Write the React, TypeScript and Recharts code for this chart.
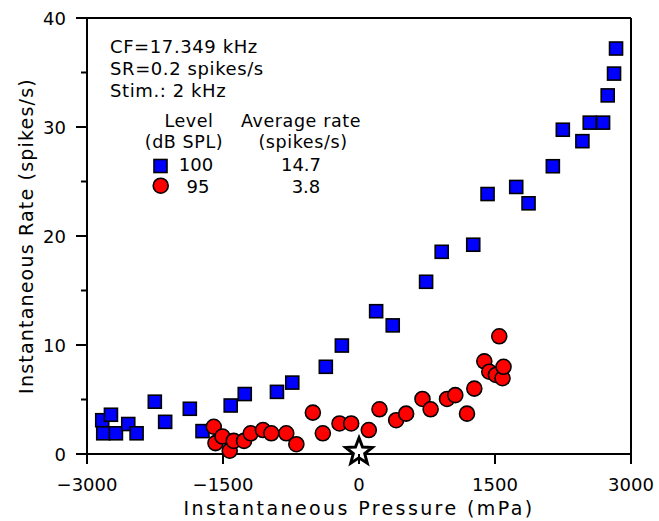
import React from "react";
import { ScatterChart, Scatter, XAxis, YAxis, ReferenceLine, Customized } from "recharts";

const FONT = "'DejaVu Sans', sans-serif";

// 100 dB SPL (blue squares)
const blueX = [-2832, -2736, -2821, -2681, -2545, -2453, -2252, -2138, -1866, -1726, -1415, -1260, -905, -736, -366, -189, 189, 372, 740, 912, 1260, 1418, 1734, 1870, 2138, 2248, 2464, 2545, 2692, 2743, 2813, 2835];
const blueY = [3.1, 3.6, 1.9, 1.9, 2.75, 1.9, 4.8, 2.95, 4.15, 2.1, 4.45, 5.5, 5.7, 6.55, 8.0, 9.95, 13.1, 11.8, 15.8, 18.55, 19.2, 23.85, 24.5, 23.0, 26.4, 29.75, 28.7, 30.4, 30.4, 32.9, 34.9, 37.2];

// 95 dB SPL (red circles)
const redX = [-1602, -1583, -1506, -1426, -1382, -1268, -1194, -1059, -967, -802, -691, -509, -399, -215, -86, 108, 226, 410, 520, 700, 790, 971, 1062, 1191, 1272, 1382, 1437, 1510, 1547, 1583, 1594];
const redY = [2.5, 1.0, 1.6, 0.3, 1.2, 1.2, 1.9, 2.2, 1.9, 1.9, 0.9, 3.8, 1.9, 2.8, 2.8, 2.2, 4.1, 3.1, 3.7, 5.05, 4.1, 5.05, 5.4, 3.7, 6.0, 8.5, 7.55, 7.25, 10.8, 6.95, 8.0];

// spontaneous rate marker
const starX = [0];
const starY = [0.2];

const xTicks = [-3000, -1500, 0, 1500, 3000];
const yTicks = [0, 5, 10, 15, 20, 25, 30, 35, 40];

const infoLines = ["CF=17.349 kHz", "SR=0.2 spikes/s", "Stim.: 2 kHz"];
const legendLevels = ["100", "95"];
const legendRates = ["14.7", "3.8"];

const toPoints = (xs: number[], ys: number[]) => xs.map((x, i) => ({ x, y: ys[i] }));
const blueData = toPoints(blueX, blueY);
const redData = toPoints(redX, redY);
const starData = toPoints(starX, starY);

const fmt = (v: number) => (v < 0 ? "\u2212" + Math.abs(v) : String(v));

const XTick = ({ x, y, payload }: { x: number; y: number; payload: { value: number } }) => (
  <g>
    <line x1={x} x2={x} y1={y} y2={y + 10} stroke="#000" strokeWidth={2} />
    <text x={x} y={y + 37} textAnchor="middle" fontSize={18} fontFamily={FONT} fill="#000">
      {fmt(payload.value)}
    </text>
  </g>
);

const YTick = ({ x, y, payload }: { x: number; y: number; payload: { value: number } }) => {
  const major = payload.value % 10 === 0;
  return (
    <g>
      <line x1={x} x2={x - (major ? 11 : 6)} y1={y} y2={y} stroke="#000" strokeWidth={2} />
      {major && (
        <text x={x - 21} y={y + 7} textAnchor="end" fontSize={18} fontFamily={FONT} fill="#000">
          {payload.value}
        </text>
      )}
    </g>
  );
};

const Square = (p: { cx?: number; cy?: number }) => {
  const { cx = 0, cy = 0 } = p;
  return <rect x={cx - 6.5} y={cy - 6.5} width={13} height={13} fill="#0000ff" stroke="#000" strokeWidth={1.6} />;
};

const Dot = (p: { cx?: number; cy?: number }) => {
  const { cx = 0, cy = 0 } = p;
  return <circle cx={cx} cy={cy} r={7.5} fill="#ff0000" stroke="#000" strokeWidth={1.6} />;
};

const Star = (p: { cx?: number; cy?: number }) => {
  const { cx = 0, cy = 0 } = p;
  const pts: string[] = [];
  for (let i = 0; i < 10; i++) {
    const r = i % 2 === 0 ? 14 : 6;
    const a = -Math.PI / 2 + (i * Math.PI) / 5;
    pts.push(`${cx + r * Math.cos(a)},${cy + r * Math.sin(a)}`);
  }
  return <polygon points={pts.join(" ")} fill="#fff" stroke="#000" strokeWidth={3} strokeLinejoin="miter" />;
};

const Overlay = () => (
  <g fontFamily={FONT} fill="#000" fontSize={18}>
    {infoLines.map((t, i) => (
      <text key={t} x={110} y={53 + i * 22} letterSpacing={0.6}>{t}</text>
    ))}
    <text x={189} y={127} textAnchor="middle" fontSize={17.5} letterSpacing={0.6}>Level</text>
    <text x={301} y={127} textAnchor="middle" fontSize={17.5} letterSpacing={0.6}>Average rate</text>
    <text x={184} y={148} textAnchor="middle" fontSize={17.5} letterSpacing={0.6}>(dB SPL)</text>
    <text x={303} y={148} textAnchor="middle" fontSize={17.5} letterSpacing={0.6}>(spikes/s)</text>
    <rect x={154} y={159.5} width={13} height={13} fill="#0000ff" stroke="#000" strokeWidth={1.6} />
    <circle cx={160.7} cy={185.7} r={7.5} fill="#ff0000" stroke="#000" strokeWidth={1.6} />
    <text x={196} y={171} textAnchor="middle">{legendLevels[0]}</text>
    <text x={198} y={193} textAnchor="middle">{legendLevels[1]}</text>
    <text x={301} y={171} textAnchor="middle">{legendRates[0]}</text>
    <text x={306} y={193} textAnchor="middle">{legendRates[1]}</text>
    <text x={359} y={515} textAnchor="middle" fontSize={19} letterSpacing={2.4}>
      Instantaneous Pressure (mPa)
    </text>
    <text
      x={0}
      y={0}
      transform="translate(33 236) rotate(-90)"
      textAnchor="middle"
      fontSize={19}
      letterSpacing={1.2}
    >
      Instantaneous Rate (spikes/s)
    </text>
  </g>
);

export default function App() {
  return (
    <div style={{ position: "absolute", left: 0, top: 0, background: "#fff" }}>
      <ScatterChart width={659} height={521} margin={{ top: 18, right: 28, bottom: 0, left: 0 }}>
        <XAxis
          type="number"
          dataKey="x"
          domain={[-3000, 3000]}
          ticks={xTicks}
          interval={0}
          height={67}
          tickSize={0}
          tickMargin={0}
          tickLine={false}
          axisLine={{ stroke: "#000", strokeWidth: 2 }}
          tick={XTick as any}
        />
        <YAxis
          type="number"
          dataKey="y"
          domain={[0, 40]}
          ticks={yTicks}
          interval={0}
          width={87}
          tickSize={0}
          tickMargin={0}
          tickLine={false}
          axisLine={{ stroke: "#000", strokeWidth: 2 }}
          tick={YTick as any}
        />
        <ReferenceLine y={40} stroke="#000" strokeWidth={2} />
        <ReferenceLine x={3000} stroke="#000" strokeWidth={2} />
        <Scatter data={blueData} shape={Square as any} isAnimationActive={false} />
        <Scatter data={redData} shape={Dot as any} isAnimationActive={false} />
        <Scatter data={starData} shape={Star as any} isAnimationActive={false} />
        <Customized component={Overlay} />
      </ScatterChart>
    </div>
  );
}
